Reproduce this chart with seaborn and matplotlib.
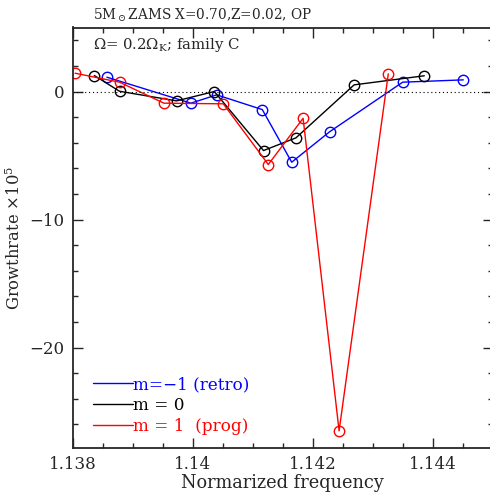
import pandas as pd
import matplotlib.pyplot as plt
import seaborn as sns
from matplotlib.ticker import MultipleLocator
from matplotlib.lines import Line2D

# Data (growthrate x 1e5 vs normalized frequency)
freq_retro = [1.13857, 1.13997, 1.14040, 1.14116, 1.14165, 1.14228, 1.14350, 1.14451]
grow_retro = [1.12, -0.91, -0.26, -1.41, -5.52, -3.15, 0.73, 0.91]

freq_zero = [1.13836, 1.13878, 1.13973, 1.14036, 1.14118, 1.14172, 1.14269, 1.14386]
grow_zero = [1.25, 0.02, -0.73, 0.0, -4.61, -3.62, 0.52, 1.23]

freq_prog = [1.13804, 1.13878, 1.13952, 1.14051, 1.14126, 1.14184, 1.14244, 1.14326]
grow_prog = [1.43, 0.73, -0.91, -0.96, -5.70, -2.09, -26.5, 1.38]

labels = ["m=\u22121 (retro)", "m = 0", "m = 1  (prog)"]
colors = ["blue", "black", "red"]

sns.set_style("ticks")
plt.rcParams['font.family'] = ['DejaVu Serif']
plt.rcParams['mathtext.fontset'] = 'dejavuserif'

fig = plt.figure(figsize=(4.9, 4.92), dpi=100)
ax = fig.add_axes([72.7 / 490, 1 - 447.5 / 492, 420 / 490, 420 / 492])

series = [(freq_retro, grow_retro), (freq_zero, grow_zero), (freq_prog, grow_prog)]
for (fx, gy), c in zip(series, colors):
    df = pd.DataFrame({'freq': fx, 'grow': gy})
    sns.lineplot(data=df, x='freq', y='grow', ax=ax, color=c, lw=1.0,
                 marker='o', ms=7.5, mfc='none', mec=c, mew=1.0)

ax.axhline(0, color='black', ls=(0, (1, 2.5)), lw=0.8)

ax.set_xlim(1.138, 1.145)
ax.set_ylim(-27.8, 5)
ax.xaxis.set_major_locator(MultipleLocator(0.002))
ax.xaxis.set_minor_locator(MultipleLocator(0.0005))
ax.yaxis.set_major_locator(MultipleLocator(10))
ax.yaxis.set_minor_locator(MultipleLocator(2))
ax.set_xticks([1.138, 1.140, 1.142, 1.144])
ax.set_xticklabels(["1.138", "1.14", "1.142", "1.144"])
ax.tick_params(which='both', direction='in', top=True, right=True, width=1.0,
               labelsize=12, pad=6)
ax.tick_params(which='major', length=7)
ax.tick_params(which='minor', length=3.5)
for s in ax.spines.values():
    s.set_linewidth(1.3)

ax.set_xlabel("Normarized frequency", fontsize=12.8, labelpad=1)
ax.set_ylabel("Growthrate $\\times10^5$", fontsize=11.8, labelpad=4)

fig.text(93 / 490, 1 - 15 / 492, "5M$_\\odot$ZAMS X=0.70,Z=0.02, OP",
         fontsize=9.8, ha='left', va='center')
ax.text(0.048, 0.958, "\u03a9= 0.2\u03a9$_{\\rm K}$; family C", transform=ax.transAxes,
        fontsize=10.7, ha='left', va='center')

handles = [Line2D([], [], color=c, lw=1.0) for c in colors]
leg = ax.legend(handles, labels, loc='lower left', bbox_to_anchor=(0.012, -0.006),
                frameon=False, handlelength=2.35, handletextpad=0.0,
                labelspacing=0.22, fontsize=12.2)
for t, c in zip(leg.get_texts(), colors):
    t.set_color(c)

fig.savefig("out.png", dpi=100)
